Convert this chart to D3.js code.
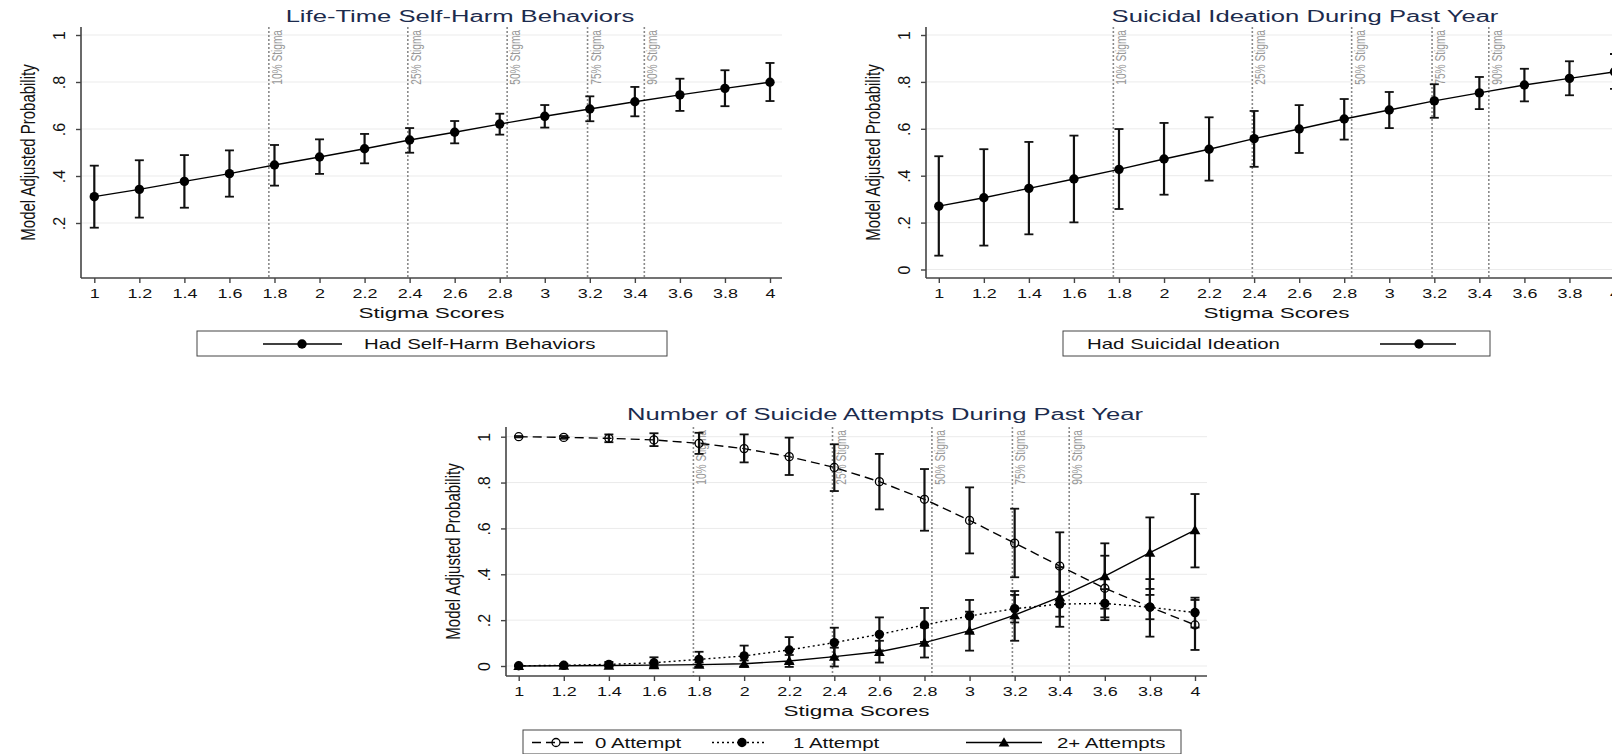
<!DOCTYPE html>
<html>
<head>
<meta charset="utf-8">
<script src="https://cdn.jsdelivr.net/npm/d3@7"></script>
<style>
  body { margin: 0; background: #fff; }
  svg { display: block; font-family: "Liberation Sans", Arial, sans-serif; }
</style>
</head>
<body>
<script>
/****************************************/
/*****  Data   *****/
/****************************************/
const stigmaScores = [1, 1.2, 1.4, 1.6, 1.8, 2, 2.2, 2.4, 2.6, 2.8, 3, 3.2, 3.4, 3.6, 3.8, 4];

const selfHarmEst = [.312, .343, .377, .410, .447, .481, .516, .553, .586, .621, .654, .685, .716, .745, .773, .799];
const selfHarmLo  = [.180, .223, .265, .312, .359, .409, .454, .499, .539, .576, .606, .633, .654, .677, .697, .719];
const selfHarmHi  = [.444, .467, .489, .509, .532, .556, .579, .604, .634, .665, .702, .739, .779, .814, .850, .881];

const ideationEst = [.270, .306, .346, .386, .427, .471, .513, .558, .599, .642, .680, .719, .753, .787, .815, .843];
const ideationLo  = [.059, .102, .150, .201, .258, .319, .379, .438, .497, .554, .603, .647, .684, .717, .743, .770];
const ideationHi  = [.483, .513, .544, .571, .599, .625, .649, .676, .701, .727, .757, .790, .821, .856, .888, .919];

const attempt0Est = [1.000, .997, .993, .986, .971, .948, .913, .866, .804, .727, .635, .536, .436, .339, .257, .179];
const attempt0Lo  = [.997, .991, .976, .959, .925, .888, .833, .763, .683, .590, .491, .387, .285, .200, .128, .070];
const attempt0Hi  = [1.003, 1.003, 1.010, 1.015, 1.017, 1.010, .996, .967, .925, .859, .779, .686, .583, .481, .379, .288];

const attempt1Est = [.001, .003, .007, .014, .029, .044, .070, .102, .138, .179, .218, .250, .270, .273, .256, .233];
const attempt1Lo  = [-.001, -.002, -.004, -.008, -.004, -.001, .012, .040, .068, .105, .147, .190, .215, .212, .204, .168];
const attempt1Hi  = [.003, .008, .018, .038, .062, .089, .126, .167, .212, .253, .288, .310, .324, .335, .310, .298];

const attempt2Est = [.000, .001, .002, .004, .006, .010, .022, .041, .062, .102, .154, .222, .300, .392, .494, .593];
const attempt2Lo  = [.000, .000, -.001, -.002, -.003, -.004, -.004, -.002, .015, .037, .067, .110, .171, .250, .336, .430];
const attempt2Hi  = [.000, .002, .005, .010, .015, .024, .048, .080, .110, .168, .237, .327, .430, .535, .648, .750];

// stigma percentile reference lines
const refValues = [1.775, 2.392, 2.833, 3.190, 3.442];
const refLabels = ['10% Stigma', '25% Stigma', '50% Stigma', '75% Stigma', '90% Stigma'];

const yTicksShort = [.2, .4, .6, .8, 1];
const yTicksFull = [0, .2, .4, .6, .8, 1];

/****************************************/
/*****  Panels   *****/
/****************************************/
const panels = [
  {
    title: 'Life-Time Self-Harm Behaviors', titleX: 460, titleY: 22,
    rect: { x0: 81, x1: 782, y0: 27, y1: 278 }, xRange: [94.3, 770], yRange: [270, 35],
    yTicks: yTicksShort,
    series: [{ est: selfHarmEst, lo: selfHarmLo, hi: selfHarmHi, dash: null, marker: 'dot' }],
    legend: { x0: 197, x1: 667, y0: 331, y1: 356, items: [
      { label: 'Had Self-Harm Behaviors', lineX: [263, 342], markX: 302, textX: 364, dash: null, marker: 'dot' }
    ] }
  },
  {
    title: 'Suicidal Ideation During Past Year', titleX: 1305, titleY: 22,
    rect: { x0: 926, x1: 1627, y0: 27, y1: 278 }, xRange: [938.8, 1614.5], yRange: [269.5, 35],
    yTicks: yTicksFull,
    series: [{ est: ideationEst, lo: ideationLo, hi: ideationHi, dash: null, marker: 'dot' }],
    legend: { x0: 1063, x1: 1490, y0: 331, y1: 356, items: [
      { label: 'Had Suicidal Ideation', lineX: [1380, 1456], markX: 1419, textX: 1087, dash: null, marker: 'dot' }
    ] }
  },
  {
    title: 'Number of Suicide Attempts During Past Year', titleX: 885, titleY: 420,
    rect: { x0: 506, x1: 1207, y0: 427, y1: 676 }, xRange: [518.7, 1195], yRange: [666, 436.7],
    yTicks: yTicksFull,
    series: [
      { est: attempt0Est, lo: attempt0Lo, hi: attempt0Hi, dash: '9,5', marker: 'hollow' },
      { est: attempt1Est, lo: attempt1Lo, hi: attempt1Hi, dash: '2,3', marker: 'dot' },
      { est: attempt2Est, lo: attempt2Lo, hi: attempt2Hi, dash: null, marker: 'triangle' }
    ],
    legend: { x0: 523, x1: 1181, y0: 730, y1: 754, items: [
      { label: '0 Attempt', lineX: [532, 583], markX: 556, textX: 595, dash: '9,5', marker: 'hollow' },
      { label: '1 Attempt', lineX: [712, 765], markX: 742, textX: 793, dash: '2,3', marker: 'dot' },
      { label: '2+ Attempts', lineX: [966, 1042], markX: 1004, textX: 1057, dash: null, marker: 'triangle' }
    ] }
  }
];

const svg = d3.select('body').append('svg')
    .attr('width', 1612)
    .attr('height', 754);

const fmtX = d => String(Math.round(d * 10) / 10);
const fmtY = d => d === 0 ? '0' : d === 1 ? '1' : String(Math.round(d * 10) / 10).replace('0.', '.');

function drawMarker(g, type, cx, cy) {
  if (type === 'dot') {
    g.append('circle').attr('cx', cx).attr('cy', cy).attr('r', 4.7).attr('fill', '#000');
  } else if (type === 'hollow') {
    g.append('circle').attr('cx', cx).attr('cy', cy).attr('r', 4)
      .attr('fill', 'none').attr('stroke', '#000').attr('stroke-width', 1.3);
  } else {
    g.append('path').attr('d', d3.symbol(d3.symbolTriangle, 50)())
      .attr('transform', `translate(${cx},${cy + 1})`).attr('fill', '#000');
  }
}

function drawPanel(p) {
  const g = svg.append('g');
  const x = d3.scaleLinear().domain([1, 4]).range(p.xRange);
  const y = d3.scaleLinear().domain([0, 1]).range(p.yRange);
  const r = p.rect;

  // gridlines
  g.append('g').selectAll('line')
    .data(p.yTicks)
    .join('line')
      .attr('x1', r.x0).attr('x2', r.x1)
      .attr('y1', d => y(d)).attr('y2', d => y(d))
      .attr('stroke', '#ebebeb').attr('stroke-width', 1);

  // reference lines + labels
  g.append('g').selectAll('line')
    .data(refValues)
    .join('line')
      .attr('x1', d => x(d)).attr('x2', d => x(d))
      .attr('y1', r.y0).attr('y2', r.y1)
      .attr('stroke', '#8a8a8a').attr('stroke-width', 1.6)
      .attr('stroke-dasharray', '2,2');
  g.append('g').selectAll('text')
    .data(refValues)
    .join('text')
      .attr('transform', d => `translate(${x(d) + 13},${r.y0 + 3}) rotate(-90) scale(0.7,1)`)
      .attr('text-anchor', 'end')
      .attr('font-size', 14.5)
      .attr('fill', '#999')
      .text((d, i) => refLabels[i]);

  // x axis
  const xAxis = g.append('g')
      .attr('transform', `translate(0,${r.y1})`)
      .call(d3.axisBottom(x).tickValues(stigmaScores).tickFormat(fmtX).tickSize(5).tickSizeOuter(0));
  xAxis.select('.domain').remove();
  xAxis.selectAll('line').attr('stroke', '#444').attr('stroke-width', 1.4);
  xAxis.selectAll('text')
      .attr('y', 20.5).attr('dy', 0)
      .attr('transform', 'scale(1.33,1)')
      .attr('font-size', 13.5)
      .attr('font-family', '"Liberation Sans", Arial, sans-serif')
      .attr('fill', '#111');

  // y axis
  const yAxis = g.append('g')
      .attr('transform', `translate(${r.x0},0)`)
      .call(d3.axisLeft(y).tickValues(p.yTicks).tickFormat(fmtY).tickSize(5).tickSizeOuter(0));
  yAxis.select('.domain').remove();
  yAxis.selectAll('line').attr('stroke', '#444').attr('stroke-width', 1.4);
  yAxis.selectAll('text')
      .attr('x', 0).attr('y', 0).attr('dy', 0)
      .attr('transform', 'translate(-16,0) rotate(-90)')
      .attr('text-anchor', 'middle')
      .attr('font-size', 16)
      .attr('font-family', '"Liberation Sans", Arial, sans-serif')
      .attr('fill', '#111');

  // axis lines (full plot region)
  g.append('line').attr('x1', r.x0).attr('x2', r.x0).attr('y1', r.y0).attr('y2', r.y1)
    .attr('stroke', '#444').attr('stroke-width', 1.6);
  g.append('line').attr('x1', r.x0).attr('x2', r.x1).attr('y1', r.y1).attr('y2', r.y1)
    .attr('stroke', '#444').attr('stroke-width', 1.6);

  // axis titles
  g.append('text')
      .attr('transform', `translate(${(r.x0 + r.x1) / 2},${r.y1 + 40}) scale(1.5,1)`)
      .attr('text-anchor', 'middle')
      .attr('font-size', 15)
      .attr('fill', '#111')
      .text('Stigma Scores');
  g.append('text')
      .attr('transform', `translate(${r.x0 - 46},${(r.y0 + r.y1) / 2}) rotate(-90) scale(0.73,1)`)
      .attr('text-anchor', 'middle')
      .attr('font-size', 20.5)
      .attr('fill', '#111')
      .text('Model Adjusted Probability');

  // title
  g.append('text')
      .attr('transform', `translate(${p.titleX},${p.titleY}) scale(1.6,1)`)
      .attr('text-anchor', 'middle')
      .attr('font-size', 16)
      .attr('fill', '#1c2b4d')
      .text(p.title);

  // connecting lines
  const line = d3.line().x((d, i) => x(stigmaScores[i])).y(d => y(d));
  p.series.forEach(s => {
    g.append('path')
      .attr('d', line(s.est))
      .attr('fill', 'none')
      .attr('stroke', '#000')
      .attr('stroke-width', 1.4)
      .attr('stroke-dasharray', s.dash);
  });

  // error bars with caps
  p.series.forEach(s => {
    const bars = g.append('g').selectAll('g')
      .data(stigmaScores)
      .join('g');
    bars.append('line')
      .attr('x1', d => x(d)).attr('x2', d => x(d))
      .attr('y1', (d, i) => y(s.lo[i])).attr('y2', (d, i) => y(s.hi[i]))
      .attr('stroke', '#111').attr('stroke-width', 2.2);
    bars.append('line')
      .attr('x1', d => x(d) - 4.5).attr('x2', d => x(d) + 4.5)
      .attr('y1', (d, i) => y(s.lo[i])).attr('y2', (d, i) => y(s.lo[i]))
      .attr('stroke', '#111').attr('stroke-width', 1.8);
    bars.append('line')
      .attr('x1', d => x(d) - 4.5).attr('x2', d => x(d) + 4.5)
      .attr('y1', (d, i) => y(s.hi[i])).attr('y2', (d, i) => y(s.hi[i]))
      .attr('stroke', '#111').attr('stroke-width', 1.8);
  });

  // markers
  p.series.forEach(s => {
    const mg = g.append('g');
    stigmaScores.forEach((d, i) => drawMarker(mg, s.marker, x(d), y(s.est[i])));
  });

  // legend
  const L = p.legend;
  const lg = g.append('g');
  lg.append('rect')
      .attr('x', L.x0).attr('y', L.y0)
      .attr('width', L.x1 - L.x0).attr('height', L.y1 - L.y0)
      .attr('fill', 'none').attr('stroke', '#444').attr('stroke-width', 1);
  const ly = (L.y0 + L.y1) / 2 + 0.5;
  L.items.forEach(it => {
    lg.append('line')
        .attr('x1', it.lineX[0]).attr('x2', it.lineX[1])
        .attr('y1', ly).attr('y2', ly)
        .attr('stroke', '#000').attr('stroke-width', 1.4)
        .attr('stroke-dasharray', it.dash);
    drawMarker(lg, it.marker, it.markX, ly);
    lg.append('text')
        .attr('transform', `translate(${it.textX},${ly + 5}) scale(1.46,1)`)
        .attr('font-size', 14)
        .attr('fill', '#111')
        .text(it.label);
  });
}

panels.forEach(drawPanel);
</script>
</body>
</html>
